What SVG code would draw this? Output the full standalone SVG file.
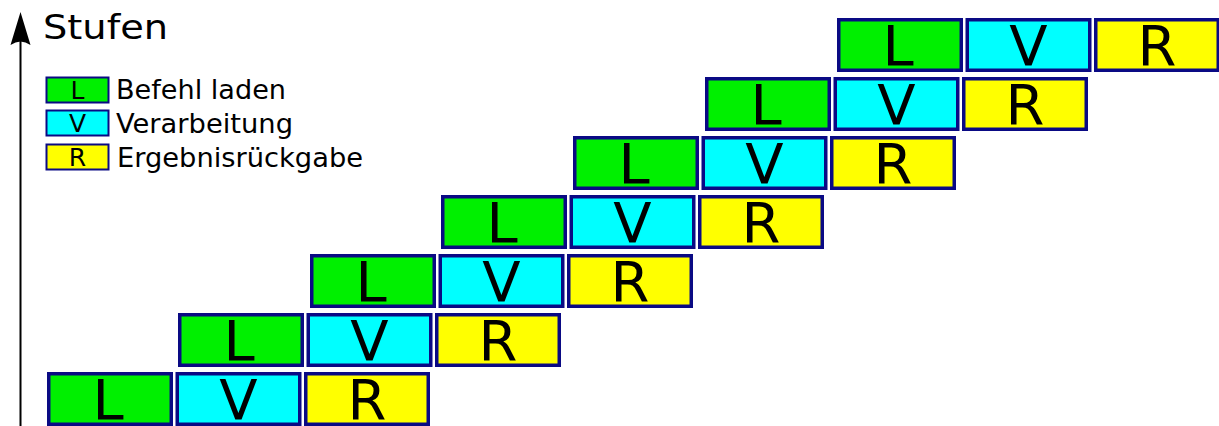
<svg xmlns="http://www.w3.org/2000/svg" width="1219" height="426" viewBox="0 0 1219 426">
<style>
.b{stroke:#0a0a84;stroke-width:3.5}
.L{fill:#00f000}.V{fill:#00ffff}.R{fill:#ffff00}
.t{font-family:"DejaVu Sans",sans-serif;font-size:56px;fill:#000;text-anchor:middle}
.lt{font-family:"DejaVu Sans",sans-serif;font-size:25px;fill:#000;text-anchor:middle}
.lg{font-family:"DejaVu Sans",sans-serif;font-size:26px;fill:#000}
</style>
<defs>
<g id="stage">
<rect class="b L" x="1.75" y="1.75" width="122.5" height="50.5"/>
<text class="t" x="61" y="47">L</text>
<rect class="b V" x="130.25" y="1.75" width="122.5" height="50.5"/>
<text class="t" x="191.5" y="47">V</text>
<rect class="b R" x="258.75" y="1.75" width="122.5" height="50.5"/>
<text class="t" x="320" y="47">R</text>
</g>
</defs>
<g id="axis">
<line x1="20.5" y1="30" x2="20.5" y2="426" stroke="#000" stroke-width="2"/>
<path d="M20.5,12 L30.5,45 Q20.5,38 10.5,45 Z" fill="#000"/>
<text class="lg" x="43" y="39" style="font-size:34px" textLength="125" lengthAdjust="spacingAndGlyphs">Stufen</text>
</g>
<g id="legend">
<rect class="b L" x="46.5" y="77.5" width="62" height="25" style="stroke-width:2"/>
<text class="lt" x="77.5" y="99">L</text>
<text class="lg" x="116" y="99" textLength="170" lengthAdjust="spacingAndGlyphs">Befehl laden</text>
<rect class="b V" x="46.5" y="110.5" width="62" height="25" style="stroke-width:2"/>
<text class="lt" x="77.5" y="132">V</text>
<text class="lg" x="116" y="133" textLength="177" lengthAdjust="spacingAndGlyphs">Verarbeitung</text>
<rect class="b R" x="46.5" y="144.5" width="62" height="25" style="stroke-width:2"/>
<text class="lt" x="77.5" y="166">R</text>
<text class="lg" x="117" y="167" textLength="246" lengthAdjust="spacingAndGlyphs">Ergebnisrückgabe</text>
</g>
<g id="row1"><use href="#stage" x="47" y="372"/></g>
<g id="row2"><use href="#stage" x="178" y="313"/></g>
<g id="row3"><use href="#stage" x="310" y="254"/></g>
<g id="row4"><use href="#stage" x="441" y="195"/></g>
<g id="row5"><use href="#stage" x="573" y="136"/></g>
<g id="row6"><use href="#stage" x="705" y="77"/></g>
<g id="row7"><use href="#stage" x="837" y="18"/></g>
</svg>
